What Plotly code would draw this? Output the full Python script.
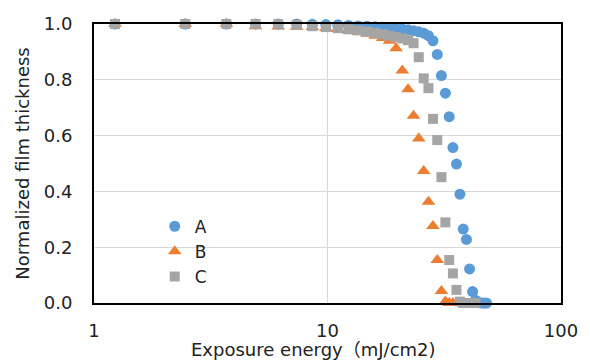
import plotly.graph_objects as go

# Exposure energy (mJ/cm2)
exposure = [1.23, 2.46, 3.69, 4.92, 6.15, 7.38, 8.61, 9.84, 11.07, 12.3, 13.53, 14.76,
            15.99, 17.22, 18.45, 19.68, 20.91, 22.14, 23.37, 24.6, 25.83, 27.06, 28.29,
            29.52, 30.75, 31.98, 33.21, 34.44, 35.67, 36.9, 38.13, 39.36, 40.59, 41.82,
            43.05, 44.28, 45.51, 46.74, 47.97]

thick_A = [1.0, 1.0, 1.0, 1.0, 1.0, 1.0, 0.999, 0.998, 0.997, 0.995, 0.993, 0.992,
           0.99, 0.988, 0.986, 0.984, 0.982, 0.979, 0.976, 0.972, 0.967, 0.958, 0.94,
           0.891, 0.815, 0.752, 0.668, 0.557, 0.498, 0.39, 0.265, 0.228, 0.122, 0.041,
           0.01, 0.003, 0.0, 0.0, 0.0]

exposure_B = exposure[:28]
thick_B = [1.0, 1.0, 1.0, 0.992, 0.991, 0.99, 0.989, 0.986, 0.982, 0.977, 0.971, 0.965,
           0.958, 0.95, 0.94, 0.913, 0.833, 0.766, 0.671, 0.59, 0.473, 0.363, 0.276,
           0.154, 0.043, 0.005, 0.0, 0.0]

exposure_C = exposure[:35]
thick_C = [1.0, 1.0, 1.0, 1.0, 0.999, 0.997, 0.992, 0.989, 0.985, 0.981, 0.977, 0.973,
           0.968, 0.963, 0.958, 0.953, 0.948, 0.942, 0.931, 0.881, 0.805, 0.77, 0.66,
           0.584, 0.451, 0.289, 0.154, 0.106, 0.047, 0.005, 0.0, 0.0, 0.0, 0.0, 0.0]

x_ticks = [1, 10, 100]
x_ticktext = ["1", "10", "100"]

x_title = "Exposure energy（mJ/cm2)"
y_title = "Normalized film thickness"

FONT = "DejaVu Sans, Noto Sans CJK JP, sans-serif"

fig = go.Figure()
fig.add_trace(go.Scatter(x=exposure, y=thick_A, mode="markers", name="A",
                         marker=dict(symbol="circle", size=11, color="#5B9BD5"),
                         cliponaxis=False))
fig.add_trace(go.Scatter(x=exposure_B, y=thick_B, mode="markers", name="B",
                         marker=dict(symbol="triangle-up", size=12, color="#ED7D31"),
                         cliponaxis=False))
fig.add_trace(go.Scatter(x=exposure_C, y=thick_C, mode="markers", name="C",
                         marker=dict(symbol="square", size=10, color="#A5A5A5"),
                         cliponaxis=False))

fig.update_layout(
    width=590, height=360,
    margin=dict(l=94, r=29, t=24, b=57),
    paper_bgcolor="white", plot_bgcolor="white",
    font=dict(family=FONT, size=18, color="#222222"),
    showlegend=True,
    legend=dict(x=0.13, y=0.338, xanchor="left", yanchor="top",
                bgcolor="rgba(0,0,0,0)", font=dict(size=17),
                itemwidth=30, tracegroupgap=0),
    annotations=[dict(text=x_title, xref="paper", yref="paper",
                      x=0.469, y=-0.165, xanchor="center", yanchor="middle",
                      showarrow=False, font=dict(size=18))],
)
fig.update_xaxes(
    type="log", range=[0, 2],
    tickvals=x_ticks, ticktext=x_ticktext,
    showgrid=True, gridcolor="#D9D9D9", gridwidth=1.3,
    showline=True, linecolor="black", linewidth=1.8, mirror=True,
    ticks="", ticklabelstandoff=10,
    zeroline=False,
    automargin=False,
)
fig.update_yaxes(
    range=[0, 1], dtick=0.2, tickformat=".1f",
    showgrid=True, gridcolor="#D9D9D9", gridwidth=1.3,
    showline=True, linecolor="black", linewidth=1.8, mirror=True,
    ticks="", ticklabelstandoff=16,
    zeroline=False,
    title=dict(text=y_title, standoff=10, font=dict(size=18)),
    automargin=False,
)

fig.write_html("out.html", config={"displayModeBar": False},
               post_script="document.body.style.margin='0';document.body.style.padding='0';")
